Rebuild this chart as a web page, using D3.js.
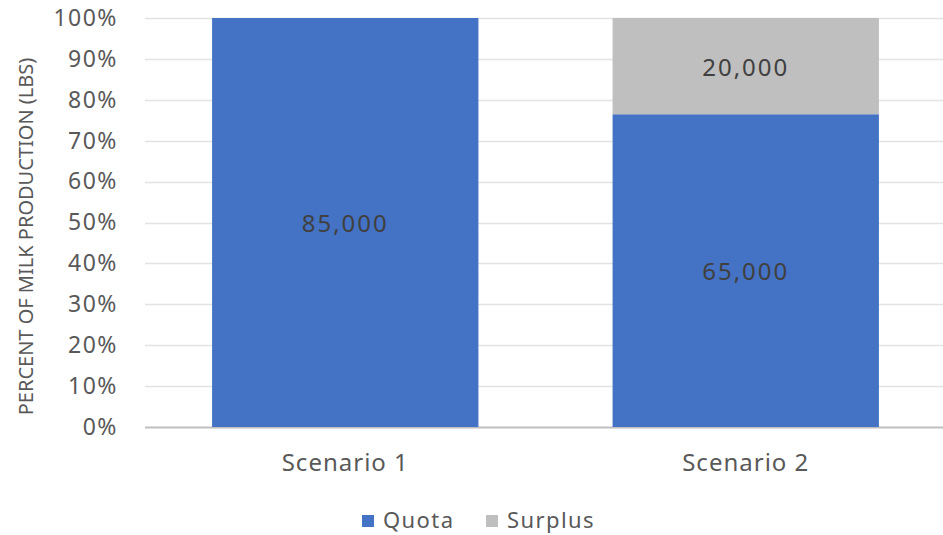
<!DOCTYPE html>
<html>
<head>
<meta charset="utf-8">
<script src="https://cdn.jsdelivr.net/npm/d3@7"></script>
<style>
  body { margin: 0; background: #fff; }
  text { font-family: "Noto Sans", "Open Sans", sans-serif; }
</style>
</head>
<body>
<div id="chart"></div>
<script>
'use strict';

const scenarios = ['Scenario 1', 'Scenario 2'];
const seriesNames = ['Quota', 'Surplus'];
const quota = [85000, 65000];
const surplus = [0, 20000];
const yTicks = [0, 0.1, 0.2, 0.3, 0.4, 0.5, 0.6, 0.7, 0.8, 0.9, 1];
const colours = ['#4472c4', '#bfbfbf'];

function makeStackedChart(containerSelector) {
  var width = 943;
  var height = 535;
  var margin = {top: 18, right: -3, bottom: 108, left: 145};

  var svg = d3.select(containerSelector)
              .append('svg')
              .attr('width', width)
              .attr('height', height);

  var rows = scenarios.map(function(name, i) {
    return {scenario: name, Quota: quota[i], Surplus: surplus[i]};
  });

  var x = d3.scaleBand()
            .domain(scenarios)
            .range([margin.left, width - margin.right])
            .paddingInner(0.335)
            .paddingOuter(0.1675);
  var y = d3.scaleLinear()
            .domain([0, 1])
            .range([height - margin.bottom, margin.top]);

  // gridlines
  svg.append('g')
     .selectAll('line')
     .data(yTicks)
     .enter().append('line')
       .attr('x1', margin.left)
       .attr('x2', width)
       .attr('y1', function(d) { return Math.round(y(d)) + 0.5; })
       .attr('y2', function(d) { return Math.round(y(d)) + 0.5; })
       .attr('stroke', function(d) { return d === 0 ? '#bfbfbf' : '#e3e3e3'; })
       .attr('stroke-width', function(d) { return d === 0 ? 2 : 1.5; });

  var yAxis = d3.axisLeft(y).tickValues(yTicks).tickFormat(d3.format('.0%')).tickSize(0).tickPadding(27);
  var gy = svg.append('g')
     .attr('transform', 'translate(' + margin.left + ',0)')
     .call(yAxis);
  gy.select('.domain').remove();
  gy.selectAll('text')
    .attr('fill', '#595959')
    .style('font-size', '23px')
    .style('letter-spacing', '1.5px');

  var stack = d3.stack().keys(seriesNames).offset(d3.stackOffsetExpand);
  var series = stack(rows);

  var layer = svg.selectAll('.serie')
     .data(series)
     .enter().append('g')
       .attr('class', 'serie')
       .attr('fill', function(d, i) { return colours[i]; });

  layer.selectAll('rect')
     .data(function(d) { return d; })
     .enter().append('rect')
       .attr('x', function(d) { return x(d.data.scenario); })
       .attr('y', function(d) { return y(d[1]); })
       .attr('height', function(d) { return y(d[0]) - y(d[1]); })
       .attr('width', x.bandwidth());

  // data labels
  layer.selectAll('.lbl')
     .data(function(d) { return d.map(function(p) { p.key = d.key; return p; }); })
     .enter().filter(function(d) { return d.data[d.key] > 0; })
     .append('text')
       .attr('class', 'lbl')
       .attr('x', function(d) { return x(d.data.scenario) + x.bandwidth() / 2; })
       .attr('y', function(d) { return (y(d[0]) + y(d[1])) / 2 + 1; })
       .attr('dy', '0.35em')
       .attr('text-anchor', 'middle')
       .attr('fill', '#404040')
       .style('font-size', '24px')
       .style('letter-spacing', '2px')
       .text(function(d) { return d3.format(',')(d.data[d.key]); });

  var xAxis = d3.axisBottom(x).tickSize(0).tickPadding(27);
  var gx = svg.append('g')
     .attr('transform', 'translate(0,' + (height - margin.bottom) + ')')
     .call(xAxis);
  gx.select('.domain').remove();
  gx.selectAll('text')
    .attr('fill', '#595959')
    .style('font-size', '24px')
    .style('letter-spacing', '1px');

  svg.append('text')
     .attr('transform', 'translate(26,' + (y(0.5) + 14) + ') rotate(-90)')
     .attr('text-anchor', 'middle')
     .attr('dy', '0.35em')
     .attr('fill', '#595959')
     .style('font-size', '20px')
     .text('PERCENT OF MILK PRODUCTION (LBS)');

  // legend
  var legendX = [362, 486];
  var legend = svg.selectAll('.legend')
     .data(seriesNames)
     .enter().append('g')
       .attr('class', 'legend')
       .attr('transform', function(d, i) { return 'translate(' + legendX[i] + ',520)'; });

  legend.append('rect')
     .attr('y', -5)
     .attr('width', 12)
     .attr('height', 12)
     .attr('fill', function(d, i) { return colours[i]; });

  legend.append('text')
     .attr('x', 21)
     .attr('dy', '0.35em')
     .attr('fill', '#595959')
     .style('font-size', '22px')
     .style('letter-spacing', '1.4px')
     .text(function(d) { return d; });
}

makeStackedChart('#chart');
</script>
</body>
</html>
